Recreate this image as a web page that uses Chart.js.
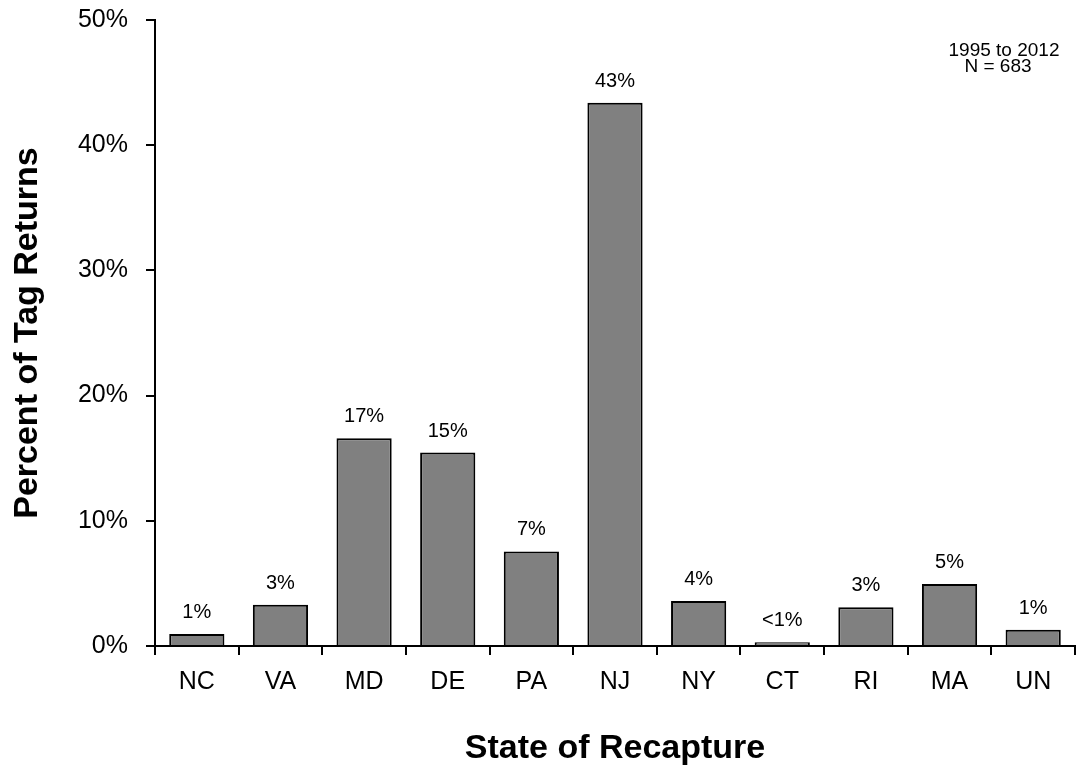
<!DOCTYPE html>
<html>
<head>
<meta charset="utf-8">
<script src="https://cdn.jsdelivr.net/npm/chart.js@4/dist/chart.umd.min.js"></script>
<style>
  html, body { margin: 0; padding: 0; background: #fff; }
  #wrap { width: 1076px; height: 769px; }
</style>
</head>
<body>
<div id="wrap"><canvas id="chart" width="1076" height="769"></canvas></div>
<script>
const states = ["NC", "VA", "MD", "DE", "PA", "NJ", "NY", "CT", "RI", "MA", "UN"];
const percentReturns = [0.95, 3.3, 16.6, 15.45, 7.55, 43.4, 3.6, 0.3, 3.1, 4.95, 1.3];
const barLabels = ["1%", "3%", "17%", "15%", "7%", "43%", "4%", "<1%", "3%", "5%", "1%"];
const yTicks = [0, 10, 20, 30, 40, 50];
const noteLines = ["1995 to 2012", "N = 683"];

const FONT = '"Liberation Sans", Arial, sans-serif';

// draws the % labels above each bar and the period note in the corner
const labelPlugin = {
    id: "barLabels",
    afterDatasetsDraw(chart) {
        const ctx = chart.ctx;
        const meta = chart.getDatasetMeta(0);
        ctx.save();
        ctx.fillStyle = "#000";
        ctx.font = "20px " + FONT;
        ctx.textAlign = "center";
        ctx.textBaseline = "alphabetic";
        meta.data.forEach((bar, i) => {
            ctx.fillText(barLabels[i], bar.x, bar.y - 16);
        });

        ctx.font = "19px " + FONT;
        ctx.fillText(noteLines[0], 1004, 56);
        ctx.fillText(noteLines[1], 998, 72);
        ctx.restore();
    }
};

new Chart(document.getElementById("chart"), {
    type: "bar",
    data: {
        labels: states,
        datasets: [{
            data: percentReturns,
            backgroundColor: "#808080",
            borderColor: "#000",
            borderWidth: 2,
            categoryPercentage: 1,
            barPercentage: 0.66,
        }]
    },
    options: {
        responsive: false,
        animation: false,
        layout: { padding: { top: 20, right: 1, bottom: 0, left: 0 } },
        plugins: {
            legend: { display: false },
            tooltip: { enabled: false },
        },
        scales: {
            x: {
                grid: {
                    offset: true,
                    drawOnChartArea: false,
                    color: "#000",
                    lineWidth: 2,
                    tickLength: 9,
                },
                border: { display: true, color: "#000", width: 2 },
                ticks: {
                    color: "#000",
                    font: { family: FONT, size: 25 },
                    padding: 12,
                    maxRotation: 0,
                },
                title: {
                    display: true,
                    text: "State of Recapture",
                    color: "#000",
                    font: { family: FONT, size: 34, weight: "bold", lineHeight: 1.2 },
                    padding: { top: 0, bottom: 0 },
                },
                afterFit(scale) {
                    scale.height = 123;
                    scale.paddingLeft = 0;
                    scale.paddingRight = 0;
                },
            },
            y: {
                min: 0,
                max: 50,
                afterBuildTicks(scale) { scale.ticks = yTicks.map(v => ({ value: v })); },
                grid: {
                    drawOnChartArea: false,
                    color: "#000",
                    lineWidth: 2,
                    tickLength: 9,
                },
                border: { display: true, color: "#000", width: 2 },
                ticks: {
                    color: "#000",
                    font: { family: FONT, size: 25 },
                    padding: 18,
                    callback: v => v + "%",
                },
                title: {
                    display: true,
                    text: "Percent of Tag Returns",
                    color: "#000",
                    font: { family: FONT, size: 34, weight: "bold", lineHeight: 1.2 },
                    padding: { top: 7, bottom: 0 },
                },
                afterFit(scale) {
                    scale.width = 155;
                    scale.paddingTop = 0;
                    scale.paddingBottom = 0;
                },
            }
        }
    },
    plugins: [labelPlugin]
});
</script>
</body>
</html>
